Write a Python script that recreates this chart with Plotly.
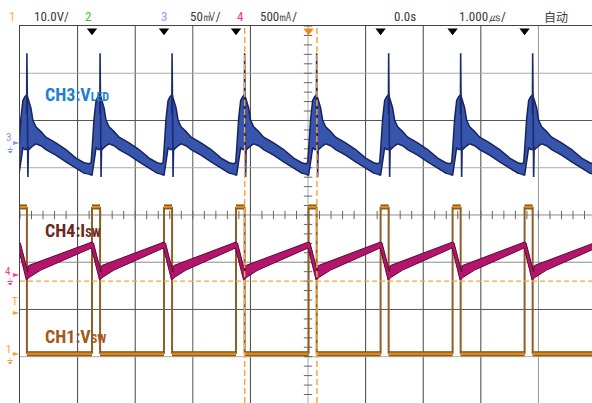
import plotly.graph_objects as go

# ---------------- data ----------------
TIME_RANGE_US = [-5.0, 4.93]          # visible time window (µs), 1 µs/div
DIV_RANGE = [-3.98, 4.0]              # visible vertical window (divisions)

CH1_SCALE_V = 10.0                    # V/div
CH3_SCALE_MV = 50.0                   # mV/div
CH4_SCALE_MA = 500.0                  # mA/div
CH1_GROUND_DIV = -2.92
CH3_GROUND_DIV = 1.545
CH4_GROUND_DIV = -1.25

# switch node edges (µs); first/last entries sit just outside the window
SW_RISE_US = [-5.02, -3.75, -2.50, -1.25, 0.01, 1.26, 2.51, 3.76, 5.01]
SW_FALL_US = [-4.88, -3.61, -2.36, -1.10, 0.15, 1.40, 2.65, 3.90, 5.15]
CH1_HIGH_V = 30.9
CH1_LOW_V = -0.2

# CH3 (V_LED ripple): one cycle, offsets from switch turn-off (µs), band edges (mV)
CH3_DT_US = [-0.191, -0.156, -0.139, -0.104, -0.069, -0.035, 0.0, 0.035, 0.069,
             0.104, 0.156, 0.243, 0.330, 0.503, 0.677, 0.851, 0.990]
CH3_UPPER_MV = [-23, -22, -8, 25, 44, 48, 50, 44, 36, 23, 16, 11, 5, -1, -8, -17, -22]
CH3_LOWER_MV = [-34, -35, -35, -19, -6, -8, -8, -8, -6, -4, -2, -4, -8, -14, -21, -28, -33]
CH3_SPIKE_DT_US = [-0.005, 0.0, 0.010, 0.017, 0.026]
CH3_SPIKE_MV = [30, 94, 20, -37, -5]

# CH4 (I_SW): one cycle, offsets from switch turn-on (µs), band edges (mA)
CH4_UP_DT_US = [0.0, 0.026, 0.156, 0.160, 0.191]
CH4_UP_MA = [339, 328, 21, 85, 95]
CH4_LO_DT_US = [-0.009, 0.130, 0.191, 0.382]
CH4_LO_MA = [275, -63, -32, 42]

CURSOR_T_US = [-1.10, 0.155]
TRIG_LEVEL_V = 15.2

HEADER_TEXTS = ["1", "10.0V/", "2", "3", "50㎷/", "4", "500㎃/", "0.0s", "1.000㎲/", "自动"]

# ---------------- helpers ----------------
W, H = 592, 403
ML, MR, MT, MB = 20, 0, 26, 0


def px_x(px):
    return (px - ML) / (W - ML - MR)


def px_y(py):
    return (H - MB - py) / (H - MT - MB)


def ch_range(ground_div, scale):
    return [(DIV_RANGE[0] - ground_div) * scale, (DIV_RANGE[1] - ground_div) * scale]


def tile(edges, dts, vals):
    xs, ys = [], []
    for e in edges:
        for d, v in zip(dts, vals):
            xs.append(e + d)
            ys.append(v)
    return xs, ys


fig = go.Figure()

# ---- CH3 band ----
ux, uy = tile(SW_FALL_US, CH3_DT_US, CH3_UPPER_MV)
lx, ly = tile(SW_FALL_US, CH3_DT_US, CH3_LOWER_MV)
fig.add_trace(go.Scatter(x=ux + lx[::-1], y=uy + ly[::-1], yaxis="y3", mode="lines",
                         fill="toself", fillcolor="#3755ad",
                         line=dict(color="#17245c", width=1.5), hoverinfo="skip"))
sx, sy = [], []
for f in SW_FALL_US:
    for d, v in zip(CH3_SPIKE_DT_US, CH3_SPIKE_MV):
        sx.append(f + d)
        sy.append(v)
    sx.append(None)
    sy.append(None)
fig.add_trace(go.Scatter(x=sx, y=sy, yaxis="y3", mode="lines",
                         line=dict(color="#1b2b70", width=1.6), hoverinfo="skip"))

# ---- CH4 band ----
ux, uy = tile(SW_RISE_US, CH4_UP_DT_US, CH4_UP_MA)
lx, ly = tile(SW_RISE_US, CH4_LO_DT_US, CH4_LO_MA)
fig.add_trace(go.Scatter(x=ux + lx[::-1], y=uy + ly[::-1], yaxis="y4", mode="lines",
                         fill="toself", fillcolor="#b4156a",
                         line=dict(color="#5a0a32", width=1), hoverinfo="skip"))

# ---- CH1 square wave ----
ex, ey = [], []
for t in SW_RISE_US + SW_FALL_US:
    ex += [t, t, None]
    ey += [CH1_LOW_V, CH1_HIGH_V, None]
fig.add_trace(go.Scatter(x=ex, y=ey, yaxis="y2", mode="lines",
                         line=dict(color="#8e5e26", width=2), hoverinfo="skip"))
hx, hy = [], []
for i, (r, f) in enumerate(zip(SW_RISE_US, SW_FALL_US)):
    hx += [r, f, None]
    hy += [CH1_HIGH_V, CH1_HIGH_V, None]
    if i + 1 < len(SW_RISE_US):
        hx += [f, SW_RISE_US[i + 1], None]
        hy += [CH1_LOW_V, CH1_LOW_V, None]
fig.add_trace(go.Scatter(x=hx, y=hy, yaxis="y2", mode="lines",
                         line=dict(color="#7a4a0e", width=5), hoverinfo="skip"))
fig.add_trace(go.Scatter(x=hx, y=hy, yaxis="y2", mode="lines",
                         line=dict(color="#d98a1c", width=2.6), hoverinfo="skip"))

# ---- centre-axis minor ticks ----
n_t = int(round((TIME_RANGE_US[1] - TIME_RANGE_US[0]) * 5)) + 1
tick_x = [TIME_RANGE_US[0] + k * 0.2 for k in range(n_t)]
fig.add_trace(go.Scatter(x=tick_x, y=[0] * len(tick_x), mode="markers",
                         marker=dict(symbol="line-ns", size=6, line=dict(color="#666", width=1)),
                         hoverinfo="skip"))
n_d = int(round((DIV_RANGE[1] - DIV_RANGE[0]) * 5)) + 1
tick_y = [round(DIV_RANGE[1] - k * 0.2, 3) for k in range(n_d)]
fig.add_trace(go.Scatter(x=[0] * len(tick_y), y=tick_y, mode="markers",
                         marker=dict(symbol="line-ew", size=6, line=dict(color="#666", width=1)),
                         hoverinfo="skip"))

# ---- edge markers at top ----
mark_t = [t for t in SW_RISE_US if TIME_RANGE_US[0] < t < TIME_RANGE_US[1]]
fig.add_trace(go.Scatter(x=mark_t, y=[3.9] * len(mark_t), mode="markers", cliponaxis=False,
                         marker=dict(symbol="triangle-down", size=9,
                                     color=["#f08a10" if abs(t) < 0.1 else "#000" for t in mark_t]),
                         hoverinfo="skip"))

# ---- grid ----
shapes = []
v_colors = {-4: "#444", -3: "#444", -2: "#555", -1: "#444", 0: "#a8a8a8",
            1: "#444", 2: "#444", 3: "#444", 4: "#999"}
for k, c in v_colors.items():
    shapes.append(dict(type="line", xref="x", yref="paper", x0=k, x1=k, y0=0, y1=1,
                       line=dict(color=c, width=1), layer="below"))
h_colors = {3: "#aaa", 2: "#555", 1: "#aaa", 0: "#8a8a8a", -1: "#8a8a8a", -2: "#555", -3: "#aaa"}
for k, c in h_colors.items():
    shapes.append(dict(type="line", xref="paper", yref="y", x0=0, x1=1, y0=k, y1=k,
                       line=dict(color=c, width=1), layer="below"))
for t in CURSOR_T_US:
    shapes.append(dict(type="line", xref="x", yref="paper", x0=t, x1=t, y0=0, y1=1,
                       line=dict(color="#f7a645", width=1.5, dash="6px,3px"), layer="above"))
shapes.append(dict(type="line", xref="paper", yref="y2", x0=0, x1=1, y0=TRIG_LEVEL_V, y1=TRIG_LEVEL_V,
                   line=dict(color="#f4a24a", width=1.2, dash="5px,3px"), layer="above"))

# ---- annotations ----
NARROW = "Roboto Condensed, Liberation Sans Narrow, Roboto, sans-serif"
ann = []
header_pos = [12, 32, 88, 164, 188, 240, 258, 392, 457, 542]
header_col = ["#f5b066", "#3a3a3a", "#45b845", "#8e9bff", "#3a3a3a", "#ff2e92",
              "#3a3a3a", "#3a3a3a", "#3a3a3a", "#3a3a3a"]
for txt, px, col in zip(HEADER_TEXTS, header_pos, header_col):
    single = len(txt) == 1
    ann.append(dict(text=txt, x=px_x(px), y=px_y(17), xref="paper", yref="paper",
                    xanchor="center" if single else "left", yanchor="middle", showarrow=False,
                    font=dict(family=NARROW if txt != "自动" else "Noto Sans CJK SC",
                              size=13 if txt != "自动" else 12, color=col)))

labels = [("CH3:V<span style='font-size:12px'>LED</span>", 94, "#1f7fd4"),
          ("CH4:I<span style='font-size:12px'>SW</span>", 230, "#6b2a22"),
          ("CH1:V<span style='font-size:12px'>SW</span>", 336, "#a5571b")]
for txt, py, col in labels:
    ann.append(dict(text="<b>" + txt + "</b>", x=px_x(43), y=px_y(py), xref="paper", yref="paper",
                    xanchor="left", yanchor="middle", showarrow=False,
                    font=dict(family=NARROW, size=18, color=col)))

left_marks = [("3", 137, 142, "#7f93ff"), ("4", 271, 274, "#ff3a9c"),
              ("1", 349, 353, "#f5a030")]
for txt, ty, ay, col in left_marks:
    ann.append(dict(text=txt, x=px_x(8), y=px_y(ty), xref="paper", yref="paper",
                    xanchor="center", yanchor="middle", showarrow=False,
                    font=dict(family=NARROW, size=11, color=col)))
    ann.append(dict(text="►", x=px_x(16.5), y=px_y(ay), xref="paper", yref="paper",
                    xanchor="center", yanchor="middle", showarrow=False,
                    font=dict(family="DejaVu Sans", size=8, color=col)))
    ann.append(dict(text="⏚", x=px_x(10), y=px_y(ay + 8), xref="paper", yref="paper",
                    xanchor="center", yanchor="middle", showarrow=False,
                    font=dict(family="DejaVu Sans", size=9, color=col)))
ann.append(dict(text="T", x=px_x(15), y=px_y(301), xref="paper", yref="paper",
                xanchor="center", yanchor="middle", showarrow=False,
                font=dict(family=NARROW, size=11, color="#f5a030")))
ann.append(dict(text="►", x=px_x(16.5), y=px_y(312), xref="paper", yref="paper",
                xanchor="center", yanchor="middle", showarrow=False,
                font=dict(family="DejaVu Sans", size=8, color="#f5a030")))

fig.update_layout(
    width=W, height=H, margin=dict(l=ML, r=MR, t=MT, b=MB),
    paper_bgcolor="white", plot_bgcolor="white", showlegend=False,
    xaxis=dict(range=TIME_RANGE_US, showgrid=False, zeroline=False, showticklabels=False,
               ticks="", showline=True, linecolor="#444", linewidth=1, side="top", fixedrange=True),
    yaxis=dict(range=DIV_RANGE, showgrid=False, zeroline=False, showticklabels=False,
               ticks="", showline=True, linecolor="#444", linewidth=1, fixedrange=True),
    yaxis2=dict(range=ch_range(CH1_GROUND_DIV, CH1_SCALE_V), overlaying="y", visible=False),
    yaxis3=dict(range=ch_range(CH3_GROUND_DIV, CH3_SCALE_MV), overlaying="y", visible=False),
    yaxis4=dict(range=ch_range(CH4_GROUND_DIV, CH4_SCALE_MA), overlaying="y", visible=False),
    shapes=shapes, annotations=ann,
)

fig.write_html("out.html", config={"displayModeBar": False},
               post_script="document.body.style.margin='0';document.body.style.overflow='hidden';")
